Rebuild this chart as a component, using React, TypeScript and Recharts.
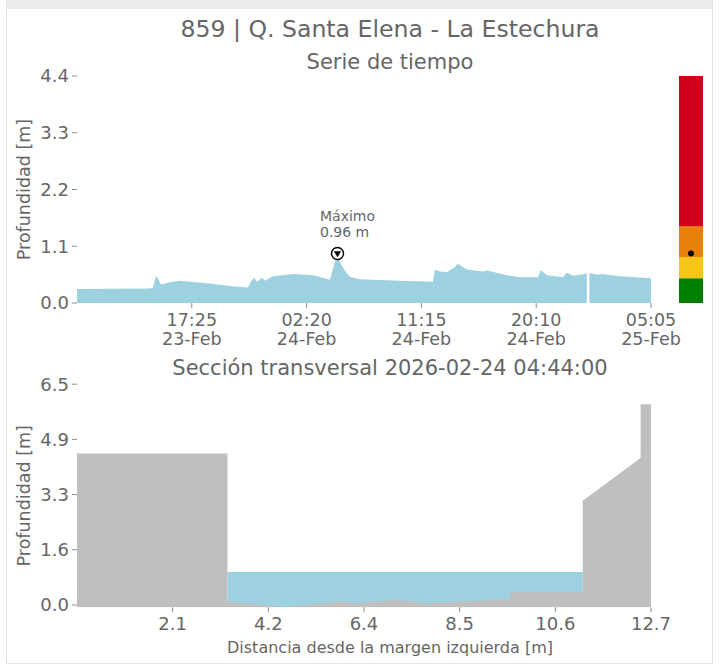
import React from 'react';
import { ComposedChart, Area, Bar, XAxis, YAxis, ReferenceDot } from 'recharts';

const FONT = '"DejaVu Sans", sans-serif';
const TEXT = '#666666';
const TICK = '#8c8c8c';
const WATER = '#9ed1e0';
const GROUND = '#bfbfbf';

// serie de tiempo: minutos desde 23-Feb 00:00, profundidad en m (null = sin dato)
const seriesTime = [
  510, 850, 864, 878, 887, 901, 943, 990, 1037, 1130, 1223, 1307, 1321, 1335, 1349, 1372, 1386,
  1423, 1517, 1610, 1689, 1703, 1724, 1740, 1759, 1782, 1829, 2015, 2169, 2178, 2202, 2234, 2271,
  2285, 2327, 2402, 2421, 2514, 2574, 2658, 2672, 2700, 2775, 2793, 2821, 2877, 2886, 2891, 2898,
  2938, 2957, 3040, 3185,
];
const seriesDepth = [
  0.27, 0.28, 0.3, 0.52, 0.48, 0.36, 0.4, 0.43, 0.41, 0.38, 0.33, 0.3, 0.42, 0.49, 0.41, 0.49, 0.43,
  0.52, 0.56, 0.54, 0.45, 0.67, 0.96, 0.75, 0.62, 0.51, 0.46, 0.43, 0.41, 0.65, 0.61, 0.6, 0.7,
  0.76, 0.65, 0.61, 0.63, 0.54, 0.5, 0.5, 0.64, 0.54, 0.5, 0.59, 0.53, 0.56, 0.57, null, 0.58,
  0.55, 0.56, 0.52, 0.48,
];
const timeTicks = [1045, 1580, 2115, 2650, 3185];
const timeLabels = ['17:25', '02:20', '11:15', '20:10', '05:05'];
const dayLabels = ['23-Feb', '24-Feb', '24-Feb', '24-Feb', '25-Feb'];
const depthTicks = [0, 1.1, 2.2, 3.3, 4.4];
const maxTime = 1724;
const maxDepth = 0.96;

// semáforo de niveles
const levelKeys = ['verde', 'amarillo', 'naranja', 'rojo'];
const levelSpans = [0.48, 0.41, 0.6, 2.91];
const levelColors = ['#008000', '#f5c518', '#e8800a', '#d0021b'];
const currentDepth = 0.96;

// sección transversal
const groundX = [0, 3.33, 3.33, 4.56, 5.82, 6.26, 7.04, 7.74, 9.58, 9.58, 11.19, 11.19, 12.47, 12.47, 12.7];
const groundY = [4.46, 4.46, 0.1, -0.07, 0.1, 0.05, 0.15, 0.05, 0.17, 0.38, 0.38, 3.07, 4.33, 5.91, 5.91];
const waterX = [3.33, 11.19];
const waterY = [0.97, 0.97];
const distTicks = [2.117, 4.233, 6.35, 8.467, 10.583, 12.7];
const distLabels = ['2.1', '4.2', '6.4', '8.5', '10.6', '12.7'];
const sectionTicks = [0, 1.625, 3.25, 4.875, 6.5];
const sectionLabels = ['0.0', '1.6', '3.3', '4.9', '6.5'];

const seriesData = seriesTime.map((t, i) => ({ t, d: seriesDepth[i] }));
const levelRow: Record<string, any> = { name: 'nivel' };
levelKeys.forEach((k, i) => (levelRow[k] = levelSpans[i]));
const groundData = groundX.map((x, i) => ({ x, y: groundY[i] }));
const waterData = waterX.map((x, i) => ({ x, y: waterY[i] }));

const tickFont = { fill: TEXT, fontSize: 18, fontFamily: FONT };

const TimeTick = (props: any) => {
  const { x, y, payload } = props;
  const i = timeTicks.indexOf(payload.value);
  return (
    <text x={x} y={y} textAnchor="middle" fill={TEXT} fontSize={17.5} fontFamily={FONT}>
      <tspan x={x} dy="0.71em">{timeLabels[i]}</tspan>
      <tspan x={x} dy={19}>{dayLabels[i]}</tspan>
    </text>
  );
};

const VLabel = (props: any) => {
  const vb = props.viewBox || {};
  const cy = (vb.y ?? 0) + (vb.height ?? 0) / 2;
  return (
    <text x={30} y={cy} transform={`rotate(-90, 30, ${cy})`} textAnchor="middle"
      fill={TEXT} fontSize={17.5} fontFamily={FONT}>
      Profundidad [m]
    </text>
  );
};

const XLabel = (props: any) => {
  const vb = props.viewBox || {};
  const y = (vb.y ?? 0) + (vb.height ?? 0) - 4;
  return (
    <text x={390} y={y} textAnchor="middle" fill={TEXT} fontSize={16} fontFamily={FONT}>
      Distancia desde la margen izquierda [m]
    </text>
  );
};

const MaxMarker = (props: any) => {
  const { cx, cy } = props;
  return (
    <g>
      <text x={cx - 17.5} y={cy - 32.6} fill={TEXT} fontSize={14} fontFamily={FONT}>Máximo</text>
      <text x={cx - 17.5} y={cy - 16.6} fill={TEXT} fontSize={14} fontFamily={FONT}>{`${maxDepth.toFixed(2)} m`}</text>
      <circle cx={cx} cy={cy} r={6} fill="#ffffff" stroke="#000000" strokeWidth={1.4} />
      <polygon points={`${cx - 3.6},${cy - 2.2} ${cx + 3.6},${cy - 2.2} ${cx},${cy + 3.8}`} fill="#000000" />
    </g>
  );
};

export default function App() {
  return (
    <div style={{ position: 'absolute', left: 0, top: 0, width: 719, height: 665, background: '#ffffff', fontFamily: FONT }}>
      <div style={{ position: 'absolute', left: 6, top: 0, width: 705, height: 662, border: '1px solid #e3e3e3' }} />
      <div style={{ position: 'absolute', left: 7, top: 0, width: 705, height: 9, background: '#ebebeb' }} />
      <svg width={719} height={665} style={{ position: 'absolute', left: 0, top: 0 }}>
        <text x={390} y={37} textAnchor="middle" fill={TEXT} fontSize={23.6} fontFamily={FONT}>
          859 | Q. Santa Elena - La Estechura
        </text>
        <text x={390} y={68.5} textAnchor="middle" fill={TEXT} fontSize={21} fontFamily={FONT}>
          Serie de tiempo
        </text>
        <text x={390} y={374.5} textAnchor="middle" fill={TEXT} fontSize={21} fontFamily={FONT}>
          Sección transversal 2026-02-24 04:44:00
        </text>
      </svg>

      <div style={{ position: 'absolute', left: 0, top: 0 }}>
        <ComposedChart width={719} height={360} data={seriesData} margin={{ top: 76, right: 68, bottom: 7, left: 0 }}>
          <XAxis dataKey="t" type="number" domain={[510, 3185]} ticks={timeTicks} allowDataOverflow
            axisLine={false} tickLine={{ stroke: TICK }} tickSize={5} tickMargin={6} height={50}
            tick={<TimeTick />} />
          <YAxis type="number" domain={[0, 4.4]} ticks={depthTicks} allowDataOverflow width={77}
            axisLine={false} tickLine={{ stroke: TICK }} tickSize={5} tickMargin={3} tick={tickFont}
            tickFormatter={(v: number) => v.toFixed(1)} label={<VLabel />} />
          <Area dataKey="d" type="linear" stroke="none" fill={WATER} fillOpacity={1} isAnimationActive={false} />
          <ReferenceDot x={maxTime} y={maxDepth} shape={MaxMarker} />
        </ComposedChart>
      </div>

      <div style={{ position: 'absolute', left: 679, top: 0 }}>
        <ComposedChart width={24} height={320} data={[levelRow]} margin={{ top: 76, right: 0, bottom: 17, left: 0 }}
          barCategoryGap={0} barGap={0}>
          <XAxis dataKey="name" type="category" hide />
          <YAxis type="number" domain={[0, 4.4]} hide allowDataOverflow />
          {levelKeys.map((k, i) => (
            <Bar key={k} dataKey={k} stackId="nivel" fill={levelColors[i]} isAnimationActive={false} />
          ))}
          <ReferenceDot x="nivel" y={currentDepth} r={3} fill="#000000" stroke="none" />
        </ComposedChart>
      </div>

      <div style={{ position: 'absolute', left: 0, top: 370 }}>
        <ComposedChart width={719} height={295} margin={{ top: 14.2, right: 68, bottom: 7.7, left: 0 }}>
          <XAxis dataKey="x" type="number" domain={[0, 12.7]} ticks={distTicks} allowDataOverflow
            axisLine={false} tickLine={{ stroke: TICK }} tickSize={5} tickMargin={5} height={50}
            tick={tickFont} tickFormatter={(v: number) => distLabels[distTicks.indexOf(v)]}
            label={<XLabel />} />
          <YAxis type="number" domain={[-0.07, 6.5]} ticks={sectionTicks} allowDataOverflow width={77}
            axisLine={false} tickLine={{ stroke: TICK }} tickSize={5} tickMargin={3} tick={tickFont}
            tickFormatter={(v: number) => sectionLabels[sectionTicks.indexOf(v)]} label={<VLabel />} />
          <Area data={waterData} dataKey="y" type="linear" baseValue="dataMin" stroke="none" fill={WATER}
            fillOpacity={1} isAnimationActive={false} />
          <Area data={groundData} dataKey="y" type="linear" baseValue="dataMin" stroke="none" fill={GROUND}
            fillOpacity={1} isAnimationActive={false} />
        </ComposedChart>
      </div>
    </div>
  );
}
